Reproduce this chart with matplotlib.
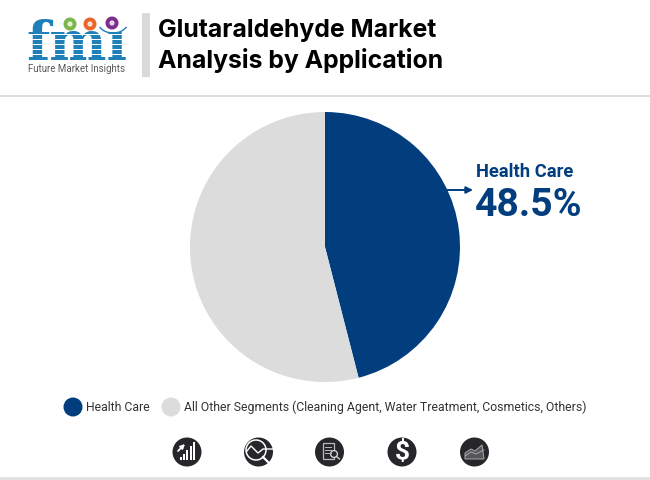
import matplotlib
matplotlib.use("Agg")
import matplotlib.pyplot as plt
from matplotlib.patches import Circle, Rectangle, Polygon, Arc

title_lines = ["Glutaraldehyde Market", "Analysis by Application"]
categories = ["Health Care", "All Other Segments (Cleaning Agent, Water Treatment, Cosmetics, Others)"]
drawn_shares = [46.0, 54.0]
callout_label = "Health Care"
callout_value = "48.5%"
colors = ["#023e7d", "#dcdcdc"]
DARK = "#27272b"
BLUE = "#023e7d"
LOGO = "#1f7fb8"

plt.rcParams["font.family"] = ["Roboto", "DejaVu Sans"]
fig = plt.figure(figsize=(6.5, 4.8), dpi=100, facecolor="white")
bg = fig.add_axes([0, 0, 1, 1])
bg.set_xlim(0, 650); bg.set_ylim(480, 0); bg.axis("off")

# header
bg.add_patch(Rectangle((142, 13), 8, 64, color="#d9d9d9", lw=0))
bg.add_patch(Rectangle((0, 94.5), 650, 2, color="#dedede", lw=0))
bg.add_patch(Rectangle((0, 477), 650, 3, color="#e2e2e2", lw=0))
bg.text(158, 31, title_lines[0], fontsize=17.85, fontweight="bold", family="Inter", color="black", va="center", ha="left")
bg.text(158, 60.5, title_lines[1], fontsize=17.85, fontweight="bold", family="Inter", color="black", va="center", ha="left")

# logo
bg.text(77, 45, "fmi", fontsize=39, fontweight="bold", family="DejaVu Serif", color=LOGO,
        ha="center", va="center", zorder=2)
bg.add_patch(Rectangle((108, 10), 24, 22, color="white", lw=0, zorder=3))
for y in [34, 39, 44, 49, 54]:
    bg.add_patch(Rectangle((24, y), 106, 1.1, color="white", lw=0, zorder=3))
bg.text(76, 68.5, "Future Market Insights", fontsize=7, color="#5a5a5a", ha="center", va="center", zorder=4)
for x, y, c in [(70, 24, "#7ab648"), (90, 24, "#e8662a"), (112, 23, "#7b2d8e")]:
    bg.add_patch(Circle((x, y), 6.5, color=c, lw=0, zorder=4))
    bg.add_patch(Circle((x, y), 2.6, color="white", lw=0, zorder=5, alpha=.8))
bg.add_patch(Arc((113, 22), 30, 22, theta1=20, theta2=160, color=LOGO, lw=1, zorder=3))

# pie
ax = fig.add_axes([190 / 650, 1 - 382 / 480, 270 / 650, 270 / 480])
ax.pie(drawn_shares, colors=colors, startangle=90, counterclock=False, radius=1,
       wedgeprops=dict(linewidth=0))
ax.set_xlim(-1, 1); ax.set_ylim(-1, 1)

# callout
bg.annotate("", xy=(473, 190), xytext=(446, 190),
            arrowprops=dict(arrowstyle="-|>", color=BLUE, lw=1.4, mutation_scale=10, shrinkA=0, shrinkB=0),
            zorder=6)
bg.text(476, 172, callout_label, fontsize=13.2, fontweight="bold", color=BLUE, va="center", ha="left")
bg.text(475, 205.5, callout_value, fontsize=28.2, fontweight="bold", color=BLUE, va="center", ha="left")

# legend
bg.add_patch(Circle((73, 407), 9.5, color=colors[0], lw=0))
bg.text(86, 407.5, categories[0], fontsize=8.83, color="#333333", va="center", ha="left")
bg.add_patch(Circle((171, 407), 9.5, color=colors[1], lw=0))
bg.text(184, 407.5, categories[1], fontsize=8.83, color="#333333", va="center", ha="left")

# icons
cy = 452
for cx in [187, 258.5, 329.5, 402, 474.5]:
    bg.add_patch(Circle((cx, cy), 14.5, color=DARK, lw=0))
# icon 1: rising bars and arrow
for i, h in enumerate([3, 6, 10, 14, 18]):
    bg.add_patch(Rectangle((180 + i * 3.2, 460 - h), 1.9, h, color="white", lw=0))
bg.annotate("", xy=(185, 444), xytext=(178, 451),
            arrowprops=dict(arrowstyle="-|>", color="white", lw=1.3, mutation_scale=6, shrinkA=0, shrinkB=0))
# icon 2: magnifier over a wave
bg.add_patch(Circle((256, 450), 10, fill=False, ec="white", lw=1.1))
bg.plot([247, 251, 258, 263, 273], [451, 446, 453, 449, 449], color="white", lw=1)
bg.plot([263, 271], [457, 465], color="white", lw=1.6)
# icon 3: document and lens
bg.add_patch(Rectangle((323, 443), 11, 16, fill=False, ec="#bbbbbb", lw=.9))
for y in [447, 450, 453]:
    bg.plot([325, 331], [y, y], color="#bbbbbb", lw=.7)
bg.add_patch(Circle((334, 454), 3.4, facecolor=DARK, ec="#dddddd", lw=.9))
bg.plot([336.5, 339.5], [456.5, 459], color="#dddddd", lw=.9)
# icon 4: dollar
bg.text(402, 452, "$", fontsize=19, fontweight="bold", color="white", ha="center", va="center")
# icon 5: area chart
bg.add_patch(Polygon([(465, 459), (465, 453), (471, 449), (475, 451), (482, 445), (484, 459)],
                     closed=True, facecolor="#55555a", ec="#aaaaaa", lw=.7))
bg.plot([465, 471, 476, 484], [456, 452, 454, 450], color="#aaaaaa", lw=.7)

fig.savefig("out.png", dpi=100, facecolor="white")
